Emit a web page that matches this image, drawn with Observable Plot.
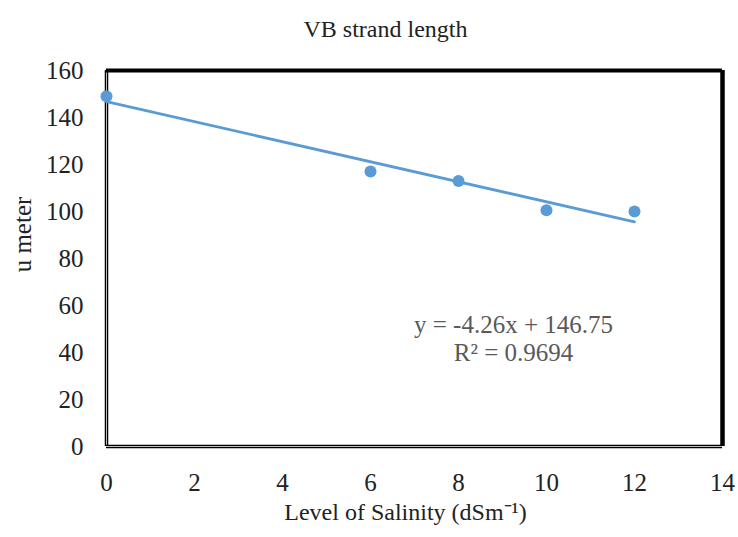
<!DOCTYPE html>
<html>
<head>
<meta charset="utf-8">
<script src="https://cdn.jsdelivr.net/npm/d3@7"></script>
<script src="https://cdn.jsdelivr.net/npm/@observablehq/plot@0.6"></script>
<style>
  html, body { margin: 0; padding: 0; background: #fff; }
  #chart { width: 738px; height: 537px; }
</style>
</head>
<body>
<div id="chart"></div>
<script>
const salinity = [0, 6, 8, 10, 12];
const strandLength = [149, 117, 113, 100.5, 100];
const xTicks = [0, 2, 4, 6, 8, 10, 12, 14];
const yTicks = [0, 20, 40, 60, 80, 100, 120, 140, 160];
const title = "VB strand length";
const xLabel = "Level of Salinity (dSm\u207B\u00B9)";
const yLabel = "u meter";
const trendSlope = -4.26;
const trendIntercept = 146.75;
const rSquared = "0.9694";

const data = salinity.map((x, i) => ({x, y: strandLength[i]}));
const trend = [0, 12].map(x => ({x, y: trendIntercept + trendSlope * x}));
const eq1 = `y = ${trendSlope}x + ${trendIntercept}`;
const eq2 = `R² = ${rSquared}`;

const blue = "#5b9bd5";
const font = "'Liberation Serif', 'Times New Roman', serif";

const chart = Plot.plot({
  width: 738,
  height: 537,
  marginLeft: 106,
  marginRight: 16,
  marginTop: 70,
  marginBottom: 91,
  style: {fontFamily: font, background: "#fff"},
  x: {domain: [0, 14], ticks: xTicks},
  y: {domain: [0, 160], ticks: yTicks},
  marks: [
    Plot.axisX({ticks: xTicks, tickSize: 0, tickPadding: 27, label: null, fill: "#222"}),
    Plot.axisY({ticks: yTicks, tickSize: 0, tickPadding: 23, label: null, fill: "#222"}),
    Plot.ruleX([0], {stroke: "#000", strokeWidth: 3.5}),
    Plot.ruleX([0], {stroke: "#bbb", strokeWidth: 1}),
    Plot.ruleY([0], {stroke: "#000", strokeWidth: 3.5}),
    Plot.ruleY([0], {stroke: "#bbb", strokeWidth: 1}),
    Plot.ruleY([160], {stroke: "#000", strokeWidth: 4, x1: 0, x2: 14}),
    Plot.ruleX([14], {stroke: "#000", strokeWidth: 4.5, y1: 0, y2: 160}),
    Plot.line(trend, {x: "x", y: "y", stroke: blue, strokeWidth: 2.8}),
    Plot.dot(data, {x: "x", y: "y", r: 6, fill: blue, stroke: null}),
    Plot.text([eq1], {x: 9.25, y: 51.5, text: d => d, fill: "#595959", fontSize: 25}),
    Plot.text([eq2], {x: 9.25, y: 39.6, text: d => d, fill: "#595959", fontSize: 25}),
    Plot.text([title], {frameAnchor: "top", dy: -51, dx: -29, text: d => d, fontSize: 24, fill: "#222"}),
    Plot.text([xLabel], {frameAnchor: "bottom", dy: 73, dx: -9, text: d => d, fontSize: 24, fill: "#222"}),
    Plot.text([yLabel], {frameAnchor: "left", textAnchor: "middle", dx: -84, dy: -24, rotate: -90, text: d => d, fontSize: 25, fill: "#222"})
  ]
});
d3.select(chart).selectAll('g[aria-label$="tick label"]').attr("font-size", 25);
d3.select(chart).selectAll("text").attr("font-family", font);
document.getElementById("chart").appendChild(chart);
</script>
</body>
</html>
